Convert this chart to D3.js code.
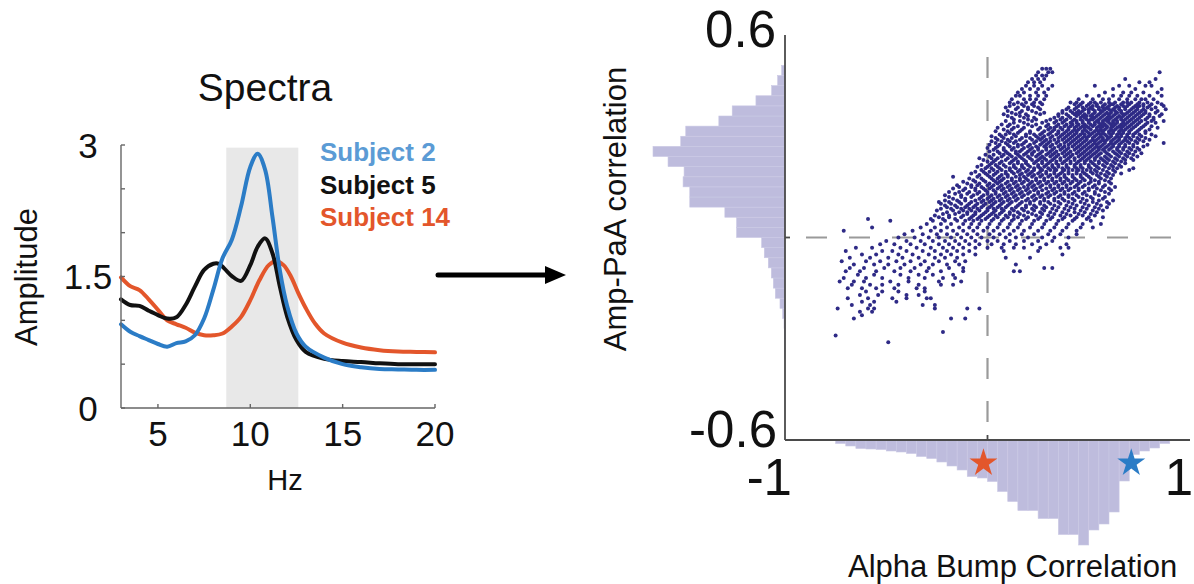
<!DOCTYPE html>
<html>
<head>
<meta charset="utf-8">
<script src="https://cdn.jsdelivr.net/npm/d3@7"></script>
<style>
  html, body { margin: 0; padding: 0; background: #fff; }
  svg { display: block; font-family: "Liberation Sans", Arial, Helvetica, sans-serif; }
</style>
</head>
<body>
<svg id="fig" width="1194" height="584"></svg>
<script>
// ---------- Spectra panel ----------
const freqS2 = [3,3.5,4,4.5,5,5.5,6,6.5,7,7.5,8,8.5,9,9.5,10,10.4,10.8,11.2,11.6,12,12.5,13,14,15,16,17,18,19,20];
const ampS2  = [.955,.87,.82,.775,.73,.70,.74,.76,.83,1.02,1.35,1.71,1.92,2.30,2.75,2.90,2.72,2.18,1.57,1.16,.85,.70,.575,.50,.465,.445,.44,.435,.435];
const freqS5 = [3,3.5,4,4.5,5,5.5,6,6.5,7,7.5,8,8.3,8.6,9,9.5,10,10.4,10.8,11.2,11.6,12,12.5,13,14,15,16,17,18,19,20];
const ampS5  = [1.24,1.175,1.165,1.11,1.06,1.02,1.035,1.175,1.385,1.575,1.645,1.645,1.59,1.505,1.45,1.63,1.84,1.935,1.765,1.385,1.04,.775,.64,.56,.535,.525,.51,.50,.50,.50];
const freqS14 = [3,3.5,4,4.5,5,5.5,6,6.5,7,7.5,8,8.5,9,9.5,10,10.5,11,11.4,11.8,12.2,12.6,13,13.5,14,15,16,17,18,19,20];
const ampS14  = [1.49,1.39,1.345,1.24,1.12,1.00,.955,.915,.86,.83,.83,.85,.93,1.04,1.23,1.46,1.63,1.675,1.63,1.50,1.31,1.14,.965,.85,.745,.69,.66,.645,.64,.635];
const alphaBandHz = [8.7, 12.6];
const alphaBandTop = 2.97;
const spectraXTicks = [5, 10, 15, 20];
const spectraYTicks = [0, 0.5, 1, 1.5, 2, 2.5, 3];
const spectraYLabels = [0, 1.5, 3];
const legendSubjects = ["Subject 2", "Subject 5", "Subject 14"];

// ---------- Correlation panel ----------
// Amp-PaA correlation histogram, 40 bins of 0.03 from -0.6 to 0.6
const ampPaaCounts = [0,0,0,0,0,0,0,0,1,1,2,3,7,15,29,35,41,50,62,70,145,145,180,285,285,305,302,350,395,312,297,198,158,87,40,22,10,0,0,0];
// Alpha bump correlation histogram, 40 bins of 0.05 from -1 to 1
const bumpCounts = [0,0,0,0,0,7,12,17,18,19,22,24,27,33,37,44,52,60,73,76,83,103,123,141,141,157,157,189,189,210,180,168,144,82,29,22,16,7,0,0];
const starSubjects = ["Subject 14", "Subject 2"];
const starBump = [-0.02, 0.71];
// scatter rows: [Amp-PaA correlation, [alpha bump correlations]]
const scatterRows = [
 [.50,[.27,.29,.31]],
 [.49,[.25,.30,.32,.85]],
 [.48,[.24,.27,.29]],
 [.47,[.22,.25,.28,.68,.83]],
 [.46,[.20,.23,.26,.75,.80]],
 [.45,[.19,.23,.27,.32,.53,.65,.70,.78,.81]],
 [.44,[.17,.21,.25,.30,.62,.73,.86]],
 [.43,[.15,.18,.24,.28,.58,.67,.71,.77,.84]],
 [.42,[.14,.16,.21,.25,.29,.49,.55,.62,.66,.70,.74,.80,.86]],
 [.41,[.12,.18,.21,.24,.28,.45,.52,.57,.60,.65,.69,.73,.76,.78,.82]],
 [.40,[.11,.15,.19,.23,.26,.41,.44,.47,.51,.53,.56,.60,.63,.67,.69,.71,.75,.79,.84]],
 [.395,[.13,.17,.22,.27,.43,.46,.50,.54,.58,.61,.62,.66,.70,.74,.77,.81,.86]],
 [.39,[.11,.18,.23,.45,.49,.52,.54,.57,.60,.64,.67,.69,.73,.75,.77,.80,.87]],
 [.385,[.09,.15,.20,.25,.40,.44,.47,.51,.55,.57,.59,.63,.65,.68,.72,.74,.79,.83]],
 [.38,[.14,.20,.26,.39,.43,.48,.50,.52,.55,.58,.60,.62,.65,.68,.71,.74,.77,.81,.88]],
 [.375,[.10,.17,.22,.37,.41,.45,.47,.50,.53,.56,.57,.61,.63,.66,.70,.73,.76,.78,.84]],
 [.37,[.12,.16,.24,.28,.37,.42,.44,.46,.50,.53,.56,.59,.61,.64,.66,.69,.72,.75,.78,.83]],
 [.365,[.08,.14,.19,.26,.35,.39,.43,.45,.48,.52,.55,.58,.60,.63,.67,.68,.71,.74,.77,.80,.86]],
 [.36,[.10,.16,.20,.35,.40,.44,.47,.49,.51,.54,.57,.60,.62,.65,.67,.70,.73,.76,.80,.85]],
 [.355,[.12,.18,.23,.33,.37,.41,.46,.48,.52,.53,.56,.59,.61,.64,.66,.69,.72,.75,.79,.82]],
 [.35,[.13,.20,.24,.31,.36,.39,.43,.46,.49,.51,.52,.55,.58,.60,.63,.66,.68,.71,.74,.78,.82]],
 [.345,[.09,.16,.22,.29,.34,.38,.42,.44,.47,.50,.54,.57,.59,.62,.64,.67,.70,.73,.76,.81,.87]],
 [.34,[.13,.18,.27,.33,.37,.41,.44,.47,.50,.53,.55,.57,.60,.62,.64,.67,.69,.72,.75,.79,.83]],
 [.335,[.07,.11,.20,.24,.30,.35,.39,.42,.45,.48,.51,.53,.56,.58,.61,.63,.66,.68,.71,.74,.78]],
 [.33,[.10,.15,.22,.29,.34,.38,.41,.44,.47,.49,.52,.55,.57,.59,.62,.65,.67,.70,.73,.77,.81]],
 [.325,[.05,.13,.18,.26,.31,.33,.36,.40,.43,.46,.48,.50,.54,.56,.59,.61,.64,.66,.69,.72,.76,.84]],
 [.32,[.08,.12,.17,.25,.30,.33,.37,.40,.43,.45,.48,.51,.54,.56,.58,.61,.63,.66,.68,.71,.75,.80]],
 [.315,[.04,.10,.16,.21,.28,.32,.35,.39,.42,.44,.47,.49,.53,.55,.57,.60,.62,.65,.67,.70,.74,.78]],
 [.31,[.11,.15,.21,.27,.31,.35,.38,.41,.44,.47,.50,.52,.55,.57,.60,.62,.65,.67,.70,.73,.78]],
 [.305,[.06,.09,.13,.19,.23,.26,.30,.34,.37,.40,.43,.46,.48,.51,.54,.56,.58,.61,.64,.66,.69,.72,.75,.81]],
 [.30,[.02,.07,.14,.19,.24,.28,.32,.36,.39,.42,.45,.48,.50,.53,.56,.59,.61,.64,.66,.69,.72,.76,.83]],
 [.295,[.04,.08,.12,.17,.21,.25,.27,.31,.35,.38,.41,.44,.47,.49,.52,.55,.57,.60,.63,.65,.68,.70,.74,.78]],
 [.29,[.05,.10,.16,.22,.26,.29,.33,.37,.40,.43,.46,.49,.52,.54,.57,.59,.62,.65,.68,.71,.75,.80]],
 [.285,[.02,.07,.11,.14,.19,.24,.28,.31,.35,.39,.42,.45,.48,.51,.53,.56,.58,.61,.64,.67,.69,.73,.77]],
 [.28,[.04,.09,.13,.18,.23,.27,.30,.34,.38,.41,.44,.47,.50,.53,.55,.58,.61,.63,.66,.70,.74,.87]],
 [.275,[.01,.06,.10,.15,.17,.21,.26,.29,.32,.36,.40,.43,.46,.49,.52,.54,.57,.60,.62,.65,.68,.72,.79]],
 [.27,[.05,.11,.15,.20,.24,.28,.31,.35,.38,.42,.45,.48,.51,.54,.56,.59,.62,.65,.68,.72,.77]],
 [.265,[.00,.04,.08,.13,.18,.22,.25,.29,.33,.37,.40,.44,.47,.50,.53,.55,.58,.61,.64,.67,.70,.74]],
 [.26,[.03,.08,.12,.17,.21,.25,.29,.32,.36,.39,.43,.46,.49,.52,.55,.57,.60,.64,.67,.71,.75]],
 [.255,[.01,.05,.09,.14,.16,.20,.23,.27,.31,.34,.38,.41,.45,.48,.51,.54,.58,.62,.65,.69,.73]],
 [.25,[.06,.10,.14,.19,.22,.26,.30,.33,.37,.40,.44,.47,.50,.53,.56,.59,.63,.66,.70,.76]],
 [.245,[-.01,.03,.08,.11,.15,.18,.22,.25,.29,.32,.35,.39,.42,.46,.49,.52,.55,.60,.64,.68,.72]],
 [.24,[.01,.07,.12,.16,.20,.24,.27,.31,.34,.38,.41,.45,.48,.51,.54,.58,.61,.65,.69,.74]],
 [.235,[-.04,.02,.05,.10,.14,.17,.21,.26,.28,.33,.36,.40,.43,.47,.50,.53,.56,.59,.63,.67,.71]],
 [.23,[-.02,.04,.09,.13,.18,.22,.25,.29,.32,.36,.39,.43,.46,.49,.53,.57,.60,.64,.68,.72]],
 [.225,[.00,.03,.07,.12,.15,.19,.24,.27,.31,.34,.38,.41,.45,.48,.51,.55,.58,.62,.66]],
 [.22,[.02,.06,.11,.15,.19,.23,.27,.30,.34,.37,.41,.44,.48,.52,.55,.59,.63,.68]],
 [.215,[-.03,.01,.04,.08,.13,.17,.20,.25,.29,.32,.35,.39,.43,.46,.50,.53,.57,.61,.65]],
 [.21,[-.05,.00,.05,.09,.13,.17,.21,.25,.28,.32,.35,.39,.43,.46,.50,.54,.58,.62,.66]],
 [.205,[-.01,.02,.06,.11,.14,.18,.23,.26,.30,.33,.37,.40,.44,.47,.51,.55,.60,.64,.72]],
 [.20,[-.03,.03,.07,.11,.16,.20,.23,.27,.31,.34,.38,.42,.45,.49,.53,.57,.62,.70]],
 [.195,[-.06,-.02,.01,.05,.09,.12,.15,.19,.22,.26,.29,.33,.37,.40,.44,.47,.51,.54,.59,.63]],
 [.19,[-.08,-.01,.04,.09,.13,.17,.21,.25,.29,.33,.36,.40,.44,.48,.52,.56,.60,.66]],
 [.185,[-.04,.00,.03,.07,.10,.16,.20,.23,.27,.31,.35,.38,.42,.46,.49,.54,.58,.62]],
 [.18,[-.17,-.05,.01,.06,.10,.14,.18,.22,.26,.30,.34,.38,.42,.46,.50,.55,.59]],
 [.175,[-.09,-.03,.02,.05,.08,.12,.16,.19,.24,.28,.32,.36,.39,.43,.47,.51,.56,.61]],
 [.17,[-.07,-.02,.03,.07,.12,.16,.20,.24,.28,.32,.36,.40,.44,.48,.53,.58]],
 [.165,[-.12,-.06,-.01,.04,.06,.10,.14,.18,.22,.26,.30,.34,.38,.42,.46,.51,.55,.60]],
 [.16,[-.10,-.04,.01,.05,.09,.13,.17,.21,.25,.29,.33,.37,.41,.45,.50,.55,.61]],
 [.155,[-.15,-.08,-.05,.00,.03,.07,.11,.15,.20,.23,.27,.31,.35,.39,.44,.48,.53,.58]],
 [.15,[-.14,-.08,-.03,.02,.06,.10,.14,.18,.22,.26,.31,.35,.39,.43,.47,.52,.57,.63]],
 [.145,[-.17,-.11,-.06,-.02,.01,.05,.08,.12,.16,.20,.24,.29,.33,.37,.41,.45,.50,.54,.60]],
 [.14,[-.12,-.06,-.01,.03,.07,.11,.15,.19,.23,.27,.32,.36,.40,.45,.50,.56,.61]],
 [.135,[-.19,-.14,-.09,-.04,.00,.04,.09,.13,.17,.21,.25,.30,.34,.38,.43,.48,.53,.58]],
 [.13,[-.16,-.10,-.05,.00,.04,.08,.12,.16,.20,.25,.29,.33,.38,.42,.47,.53,.60]],
 [.125,[-.21,-.13,-.07,-.02,.02,.06,.10,.14,.18,.23,.27,.31,.36,.40,.44,.49,.55]],
 [.12,[-.19,-.13,-.08,-.03,.01,.05,.09,.13,.17,.22,.26,.30,.35,.40,.45,.51,.58]],
 [.115,[-.17,-.11,-.04,.00,.03,.07,.11,.15,.20,.24,.28,.33,.37,.42,.47,.52,.57]],
 [.11,[-.21,-.15,-.11,-.06,-.02,.02,.06,.10,.14,.19,.23,.28,.33,.38,.43,.49,.55,.62]],
 [.105,[-.24,-.19,-.14,-.08,-.03,.01,.04,.08,.12,.17,.21,.26,.30,.35,.40,.46,.52,.59]],
 [.10,[-.23,-.18,-.13,-.09,-.05,-.01,.03,.07,.11,.16,.21,.26,.31,.36,.42,.48,.54,.60]],
 [.095,[-.21,-.16,-.10,-.06,-.02,.02,.06,.10,.15,.19,.23,.28,.33,.39,.44,.50,.56]],
 [.09,[-.20,-.15,-.11,-.07,-.03,.01,.05,.09,.14,.19,.24,.29,.35,.41,.47,.53,.59]],
 [.085,[-.23,-.18,-.13,-.09,-.05,.00,.03,.07,.12,.17,.22,.27,.32,.38,.43,.49,.55]],
 [.08,[-.25,-.17,-.12,-.08,-.04,.00,.04,.08,.13,.18,.23,.28,.34,.40,.46,.52,.57]],
 [.075,[-.20,-.14,-.10,-.06,-.01,.03,.07,.11,.15,.20,.26,.31,.37,.43,.48,.54]],
 [.07,[-.22,-.16,-.10,-.06,-.02,.02,.06,.11,.16,.22,.27,.33,.39,.45,.51]],
 [.065,[-.26,-.19,-.12,-.07,-.03,.01,.04,.09,.13,.18,.24,.30,.36,.41,.47,.53]],
 [.06,[-.24,-.19,-.13,-.08,-.04,.00,.05,.10,.15,.20,.26,.32,.38,.44,.50,.57]],
 [.055,[-.59,-.28,-.22,-.16,-.09,-.05,-.01,.03,.08,.13,.19,.25,.31,.37,.43,.49]],
 [.05,[-.48,-.27,-.21,-.15,-.11,-.07,-.03,.02,.07,.12,.17,.23,.29,.35,.42,.51]],
 [.04,[-.30,-.23,-.18,-.12,-.08,-.04,.01,.06,.11,.16,.22,.28,.34,.40,.47,.56]],
 [.03,[-.57,-.33,-.26,-.20,-.14,-.09,-.05,.00,.05,.10,.15,.21,.27,.33,.39,.46,.52]],
 [.02,[-.71,-.37,-.28,-.23,-.17,-.12,-.07,-.02,.03,.08,.13,.18,.25,.31,.37,.44]],
 [.01,[-.41,-.32,-.25,-.20,-.15,-.10,-.05,.01,.06,.11,.17,.23,.30,.36,.44]],
 [.00,[-.44,-.36,-.29,-.24,-.18,-.13,-.08,-.03,.03,.09,.14,.20,.27,.33,.40]],
 [-.01,[-.50,-.40,-.33,-.27,-.21,-.16,-.11,-.06,.00,.05,.11,.18,.25,.32]],
 [-.02,[-.53,-.46,-.38,-.31,-.24,-.19,-.14,-.09,-.04,.02,.08,.14,.22,.29,.39]],
 [-.03,[-.65,-.57,-.43,-.35,-.28,-.22,-.17,-.12,-.06,.00,.07,.13,.18,.26,.36,.40]],
 [-.04,[-.70,-.52,-.47,-.40,-.32,-.26,-.20,-.15,-.09,.08,.25]],
 [-.05,[-.62,-.55,-.44,-.37,-.29,-.23,-.18,-.12,-.06,.37]],
 [-.06,[-.68,-.58,-.49,-.42,-.34,-.26,-.21,-.15,.09,.21]],
 [-.07,[-.72,-.60,-.53,-.45,-.38,-.31,-.24,-.16,-.11]],
 [-.08,[-.66,-.56,-.49,-.41,-.33,-.27,-.20,-.14,.14]],
 [-.09,[-.68,-.61,-.51,-.43,-.36,-.29,-.19,-.12,.28,.32]],
 [-.10,[-.70,-.63,-.55,-.46,-.38,-.30,-.23,-.12,.13,.16]],
 [-.11,[-.64,-.56,-.43,-.34,-.27,-.17]],
 [-.12,[-.71,-.60,-.52,-.39,-.31,-.22,-.16]],
 [-.13,[-.73,-.66,-.61,-.48,-.39,-.24,-.13]],
 [-.14,[-.67,-.58,-.52,-.44,-.34,-.23,-.17]],
 [-.15,[-.69,-.62,-.55,-.46,-.35,-.31]],
 [-.16,[-.60,-.52,-.44,-.31]],
 [-.17,[-.63,-.54,-.40,-.34]],
 [-.18,[-.69,-.59,-.47,-.40,-.30,-.28]],
 [-.19,[-.62,-.56,-.45]],
 [-.20,[-.67,-.58,-.32,-.26]],
 [-.21,[-.74,-.59,-.56,-.26,-.10,-.04]],
 [-.22,[-.63,-.57]],
 [-.23,[-.62]],
 [-.24,[-.66,-.18,-.11]],
 [-.28,[-.22]],
 [-.29,[-.75]],
 [-.31,[-.49]]
];

const subjectLine = { "Subject 2": "#2b7cc6", "Subject 5": "#111111", "Subject 14": "#e3562b" };
const subjectText = { "Subject 2": "#5b9bd5", "Subject 5": "#111111", "Subject 14": "#e3562b" };

const svg = d3.select("#fig");

// ===== Spectra =====
const xL = d3.scaleLinear().domain([3, 20]).range([121, 435]);
const yL = d3.scaleLinear().domain([0, 3]).range([408, 145]);
const gL = svg.append("g");

gL.append("rect")
  .attr("x", xL(alphaBandHz[0])).attr("y", yL(alphaBandTop))
  .attr("width", xL(alphaBandHz[1]) - xL(alphaBandHz[0]))
  .attr("height", yL(0) - yL(alphaBandTop))
  .attr("fill", "#e8e8e8");

const line = d3.line().x(d => xL(d[0])).y(d => yL(d[1])).curve(d3.curveCatmullRom.alpha(0.5));
const spectra = [
  ["Subject 14", freqS14, ampS14],
  ["Subject 5", freqS5, ampS5],
  ["Subject 2", freqS2, ampS2]
];
spectra.forEach(([name, f, a]) => {
  gL.append("path")
    .datum(f.map((v, i) => [v, a[i]]))
    .attr("d", line)
    .attr("fill", "none")
    .attr("stroke", subjectLine[name])
    .attr("stroke-width", 4)
    .attr("stroke-linejoin", "round")
    .attr("stroke-linecap", "round");
});

// axes (ticks pointing inward)
const axisL = gL.append("g").attr("stroke", "#666").attr("stroke-width", 1.4);
axisL.append("line").attr("x1", xL(3)).attr("x2", xL(3)).attr("y1", yL(3)).attr("y2", yL(0));
axisL.append("line").attr("x1", xL(3)).attr("x2", xL(20)).attr("y1", yL(0)).attr("y2", yL(0));
spectraYTicks.forEach(t => axisL.append("line")
  .attr("x1", xL(3)).attr("x2", xL(3) + 4).attr("y1", yL(t)).attr("y2", yL(t)));
spectraXTicks.forEach(t => axisL.append("line")
  .attr("x1", xL(t)).attr("x2", xL(t)).attr("y1", yL(0)).attr("y2", yL(0) - 4));

gL.selectAll("text.ytick").data(spectraYLabels).join("text")
  .attr("x", 88).attr("y", d => yL(d) + 12.5)
  .attr("text-anchor", "middle").attr("font-size", 35).attr("fill", "#111")
  .text(d => d);
gL.selectAll("text.xtick").data(spectraXTicks).join("text")
  .attr("x", d => xL(d)).attr("y", 446)
  .attr("text-anchor", "middle").attr("font-size", 35).attr("fill", "#111")
  .text(d => d);

gL.append("text").attr("x", 265).attr("y", 101).attr("text-anchor", "middle")
  .attr("font-size", 39).attr("fill", "#111").text("Spectra");
gL.append("text").attr("x", 285).attr("y", 490).attr("text-anchor", "middle")
  .attr("font-size", 29).attr("fill", "#111").text("Hz");
gL.append("text").attr("transform", "translate(37,277) rotate(-90)").attr("text-anchor", "middle")
  .attr("font-size", 31).attr("fill", "#111").text("Amplitude");

gL.selectAll("text.legend").data(legendSubjects).join("text")
  .attr("x", 320).attr("y", (d, i) => 161 + i * 32.5)
  .attr("font-size", 26).attr("font-weight", "bold")
  .attr("fill", d => subjectText[d])
  .text(d => d);

// ===== Arrow =====
const gA = svg.append("g");
gA.append("line").attr("x1", 438).attr("x2", 550).attr("y1", 275).attr("y2", 275)
  .attr("stroke", "#000").attr("stroke-width", 5).attr("stroke-linecap", "round");
gA.append("path").attr("d", "M545,266 L566,275 L545,284 Z").attr("fill", "#000");

// ===== Correlation scatter with marginal histograms =====
const xR = d3.scaleLinear().domain([-1, 1]).range([785, 1190]);
const yR = d3.scaleLinear().domain([-0.6, 0.6]).range([440, 35]);
const gR = svg.append("g");
const histFill = "#bebcdd";

const lenAmp = d3.scaleLinear().domain([0, 395]).range([0, 132]);
gR.append("g").selectAll("rect").data(ampPaaCounts).join("rect")
  .attr("x", d => xR(-1) - lenAmp(d))
  .attr("y", (d, i) => yR(-0.6 + 0.03 * (i + 1)))
  .attr("width", d => lenAmp(d))
  .attr("height", (d, i) => yR(-0.6 + 0.03 * i) - yR(-0.6 + 0.03 * (i + 1)))
  .attr("fill", histFill)
  .attr("stroke", d => d > 0 ? "#cac8e4" : "none").attr("stroke-width", 0.6);

const lenBump = d3.scaleLinear().domain([0, 210]).range([0, 105]);
gR.append("g").selectAll("rect").data(bumpCounts).join("rect")
  .attr("x", (d, i) => xR(-1 + 0.05 * i))
  .attr("y", yR(-0.6))
  .attr("width", (d, i) => xR(-1 + 0.05 * (i + 1)) - xR(-1 + 0.05 * i))
  .attr("height", d => lenBump(d))
  .attr("fill", histFill)
  .attr("stroke", d => d > 0 ? "#cac8e4" : "none").attr("stroke-width", 0.6);

// reference lines at zero
gR.append("line")
  .attr("x1", xR(0)).attr("x2", xR(0)).attr("y1", yR(0.535)).attr("y2", yR(-0.6))
  .attr("stroke", "#9a9a9a").attr("stroke-width", 2.2).attr("stroke-dasharray", "21,22");
gR.append("line")
  .attr("x1", xR(-1)).attr("x2", xR(0.91)).attr("y1", yR(0)).attr("y2", yR(0))
  .attr("stroke", "#9a9a9a").attr("stroke-width", 2.2).attr("stroke-dasharray", "21,22")
  .attr("stroke-dashoffset", 22);

const points = scatterRows.flatMap(([y, xs]) => xs.map(x => [x, y]));
gR.append("g").selectAll("circle").data(points).join("circle")
  .attr("cx", d => xR(d[0])).attr("cy", d => yR(d[1])).attr("r", 2.0)
  .attr("fill", "#2e2a86");

// axes
const axisR = gR.append("g").attr("stroke", "#4a4a4a").attr("stroke-width", 1.8);
axisR.append("line").attr("x1", xR(-1)).attr("x2", xR(-1)).attr("y1", yR(0.6)).attr("y2", yR(-0.6));
axisR.append("line").attr("x1", xR(-1)).attr("x2", xR(1)).attr("y1", yR(-0.6)).attr("y2", yR(-0.6));
axisR.append("line").attr("x1", xR(-1)).attr("x2", xR(-1) + 5).attr("y1", yR(0)).attr("y2", yR(0));
axisR.append("line").attr("x1", xR(0)).attr("x2", xR(0)).attr("y1", yR(-0.6)).attr("y2", yR(-0.6) - 5);

// subject markers on the alpha bump axis
const starPath = d3.symbol().type(d3.symbolStar).size(242);
gR.selectAll("path.star").data(starSubjects).join("path")
  .attr("transform", (d, i) => `translate(${xR(starBump[i])},463)`)
  .attr("d", starPath())
  .attr("fill", d => subjectLine[d]);

// tick labels
gR.append("text").attr("x", 776).attr("y", 47).attr("text-anchor", "end")
  .attr("font-size", 51).attr("fill", "#111").text("0.6");
gR.append("text").attr("x", 777).attr("y", 447).attr("text-anchor", "end")
  .attr("font-size", 51).attr("fill", "#111").text("-0.6");
gR.append("text").attr("x", 792).attr("y", 495).attr("text-anchor", "end")
  .attr("font-size", 51).attr("fill", "#111").text("-1");
gR.append("text").attr("x", 1193).attr("y", 495).attr("text-anchor", "end")
  .attr("font-size", 51).attr("fill", "#111").text("1");

gR.append("text").attr("transform", "translate(626,209) rotate(-90)").attr("text-anchor", "middle")
  .attr("font-size", 31).attr("fill", "#111").text("Amp-PaA correlation");
gR.append("text").attr("x", 848).attr("y", 577).attr("text-anchor", "start")
  .attr("font-size", 31).attr("fill", "#111").text("Alpha Bump Correlation");
</script>
</body>
</html>
